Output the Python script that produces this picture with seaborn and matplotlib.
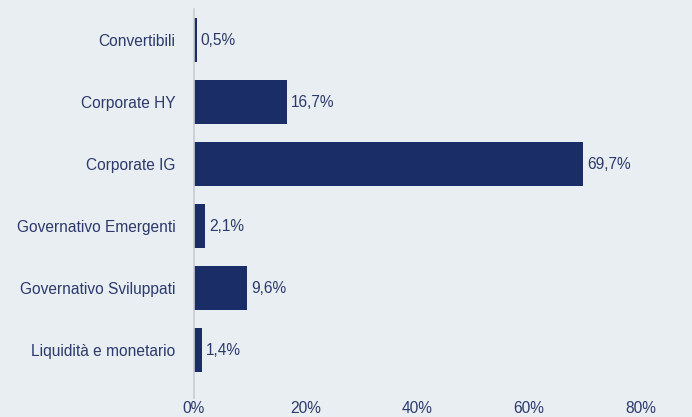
import pandas as pd
import matplotlib
matplotlib.use('Agg')
import matplotlib.pyplot as plt
import seaborn as sns

# asset classes and weights (%)
categories = ['Convertibili', 'Corporate HY', 'Corporate IG',
              'Governativo Emergenti', 'Governativo Sviluppati', 'Liquidità e monetario']
weights = [0.5, 16.7, 69.7, 2.1, 9.6, 1.4]
tick_values = [0, 20, 40, 60, 80]
tick_labels = ['0%', '20%', '40%', '60%', '80%']

df = pd.DataFrame({'categoria': categories, 'peso': weights})

bg = '#E9EEF2'
bar_color = '#1B2D66'
text_color = '#2B3A6B'

sns.set_style('white')
plt.rcParams['font.family'] = ['Liberation Sans', 'DejaVu Sans']

fig = plt.figure(figsize=(6.92, 4.17), dpi=100, facecolor=bg)
ax = fig.add_axes([0.280, 0.046, 0.646, 0.932])
ax.set_facecolor(bg)

sns.barplot(data=df, x='peso', y='categoria', color=bar_color, width=0.7,
            saturation=1, edgecolor='none', linewidth=0, ax=ax)

for i, v in enumerate(weights):
    ax.text(v + 0.7, i, f"{v:.1f}%".replace('.', ','), va='center', ha='left',
            fontsize=11.2, color=text_color)

ax.set_xlim(0, 80)
ax.set_ylim(5.77, -0.5)
ax.set_xticks(tick_values)
ax.set_xticklabels(tick_labels)
ax.set_xlabel('')
ax.set_ylabel('')
ax.tick_params(axis='both', length=0, labelsize=11.2, labelcolor=text_color)
ax.tick_params(axis='x', pad=2)
ax.tick_params(axis='y', pad=13)
for s in ['top', 'right', 'bottom']:
    ax.spines[s].set_visible(False)
ax.spines['left'].set_color('#CCCCCC')
ax.spines['left'].set_linewidth(1.2)

fig.savefig('out.png', dpi=100, facecolor=bg)
